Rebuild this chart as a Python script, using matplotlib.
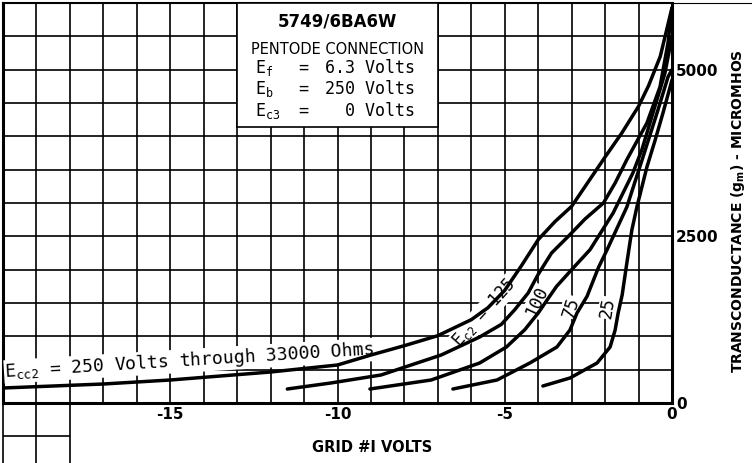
import numpy as np
import matplotlib.pyplot as plt
from matplotlib.patches import Rectangle

# grid #1 volts vs transconductance (micromhos)
v_ohms = [-20, -17, -15, -12, -10, -9, -8, -7, -6, -5.5, -5, -4.5, -4, -3.5, -3, -2, -1.5, -1, -0.7, -0.35, 0]
gm_ohms = [225, 285, 345, 465, 570, 720, 860, 1010, 1250, 1430, 1690, 2060, 2450, 2720, 2950, 3690, 4050, 4450, 4760, 5200, 5930]

v_125 = [-11.5, -10.2, -8.7, -6.9, -5.75, -5.1, -4.7, -4.3, -4.0, -3.6, -3.1, -2.6, -2.05, -1.7, -1.35, -0.75, -0.36, -0.12, 0]
gm_125 = [210, 300, 420, 720, 990, 1180, 1400, 1650, 1930, 2250, 2500, 2760, 3000, 3300, 3650, 4200, 4740, 5400, 5925]

v_100 = [-9.03, -7.2, -5.75, -4.95, -4.4, -4.0, -3.7, -3.45, -3.0, -2.45, -1.76, -1.17, -0.9, -0.57, -0.21, 0]
gm_100 = [210, 345, 600, 840, 1100, 1350, 1570, 1750, 2000, 2300, 2850, 3450, 3800, 4350, 4950, 5500]

v_75 = [-6.55, -5.23, -4.25, -3.44, -3.05, -2.84, -2.54, -2.2, -1.94, -1.35, -0.88, -0.42, -0.12, 0]
gm_75 = [210, 345, 600, 840, 1095, 1350, 1600, 2030, 2300, 2940, 3670, 4395, 4890, 5000]

v_25 = [-3.86, -3.05, -2.24, -1.85, -1.70, -1.61, -1.49, -1.35, -1.2, -1.05, -0.75, -0.5, -0.27, 0]
gm_25 = [255, 375, 600, 840, 1095, 1350, 1620, 2100, 2595, 2940, 3540, 3950, 4350, 4845]

xticks = [-15, -10, -5, 0]
yticks = [0, 2500, 5000]

fig = plt.figure(figsize=(7.52, 4.63), dpi=100)
ax = fig.add_axes([3 / 752, 60 / 463, 669 / 752, 400 / 463])
ax.set_xlim(-20, 0)
ax.set_ylim(0, 6000)

# graph paper
ax.vlines(np.arange(-20, 1), 0, 6000, color='k', lw=1.2, zorder=1)
ax.hlines(np.arange(0, 6001, 500), -20, 0, color='k', lw=1.2, zorder=1)
# bit of the grid that runs on below the axis at the left
ax.vlines([-20, -19, -18], -1000, 0, color='k', lw=1.2, clip_on=False)
ax.hlines(-500, -20, -18, color='k', lw=1.2, clip_on=False)
ax.hlines(6000, 0, 2.5, color='k', lw=0.8, clip_on=False)

for side in ['left', 'bottom', 'right']:
    ax.spines[side].set_linewidth(2.2)
ax.spines['top'].set_linewidth(1.5)

for v, g in [(v_ohms, gm_ohms), (v_125, gm_125), (v_100, gm_100), (v_75, gm_75), (v_25, gm_25)]:
    ax.plot(v, g, color='k', lw=2.5, solid_joinstyle='round', solid_capstyle='round', zorder=4)

ax.set_xticks(xticks)
ax.set_xticklabels(['-15', '-10', '-5', '0'])
ax.yaxis.tick_right()
ax.set_yticks(yticks)
ax.set_yticklabels(['0', '2500', '5000'])
ax.tick_params(length=0, pad=3, labelsize=11)
for lab in ax.get_xticklabels() + ax.get_yticklabels():
    lab.set_fontweight('bold')

fig.text(372 / 752, 1 - 447 / 463, 'GRID #I VOLTS', ha='center', va='center',
         fontsize=10.5, fontweight='bold')
fig.text(738 / 752, 1 - 211 / 463, r'TRANSCONDUCTANCE (g$_\mathregular{m}$) - MICROMHOS',
         rotation=90, ha='center', va='center', fontsize=10, fontweight='bold')

# title box
ax.add_patch(Rectangle((-13, 4140), 6, 1860, facecolor='white', edgecolor='k', lw=1.2, zorder=3))
ax.text(-10.0, 5715, '5749/6BA6W', ha='center', va='center', fontsize=12, fontweight='bold', zorder=5)
ax.text(-10.0, 5310, 'PENTODE CONNECTION', ha='center', va='center', fontsize=10.5, zorder=5)
mono = 'DejaVu Sans Mono'
rows = [(r'E$_\mathregular{f}$', '6.3 Volts', 4950),
        (r'E$_\mathregular{b}$', '250 Volts', 4640),
        (r'E$_\mathregular{c3}$', '0 Volts', 4310)]
for name, val, y in rows:
    ax.text(-12.47, y, name, family=mono, fontsize=12, va='baseline', zorder=5)
    ax.text(-11.18, y, '=', family=mono, fontsize=12, va='baseline', zorder=5)
    ax.text(-7.68, y, val, family=mono, fontsize=12, va='baseline', ha='right', zorder=5)

# curve labels
wbox = dict(facecolor='white', edgecolor='none', pad=0.5)
ax.text(-19.94, 390, r'E$_\mathregular{cc2}$ = 250 Volts through 33000 Ohms', family=mono,
        fontsize=13, rotation=3.5, rotation_mode='anchor', ha='left', va='baseline',
        bbox=wbox, zorder=3)
ax.text(-6.35, 830, r'E$_\mathregular{c2}$ = 125', family=mono, fontsize=12, rotation=48,
        rotation_mode='anchor', ha='left', va='baseline', bbox=wbox, zorder=3)
ax.text(-4.04, 1530, '100', family=mono, fontsize=12.5, rotation=65, ha='center', va='center',
        bbox=wbox, zorder=3)
ax.text(-3.02, 1440, '75', family=mono, fontsize=12.5, rotation=72, ha='center', va='center',
        bbox=wbox, zorder=3)
ax.text(-1.91, 1425, '25', family=mono, fontsize=12.5, rotation=80, ha='center', va='center',
        bbox=wbox, zorder=3)

fig.savefig('out.png', dpi=100)
